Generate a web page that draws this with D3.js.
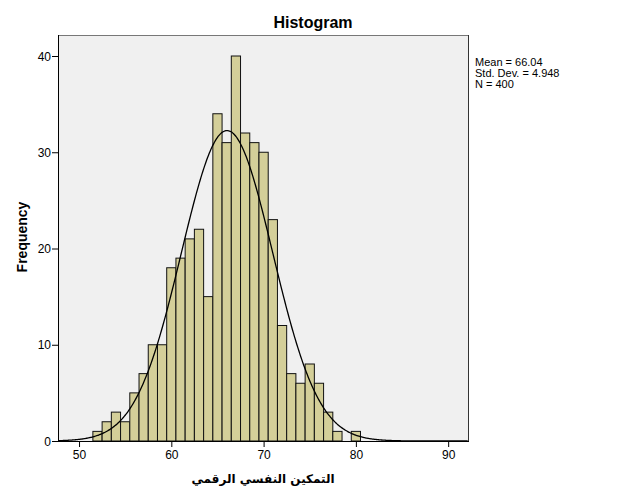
<!DOCTYPE html>
<html>
<head>
<meta charset="utf-8">
<script src="https://cdn.jsdelivr.net/npm/d3@7"></script>
<style>
  body { margin: 0; background: #fff; }
  text { font-family: "Liberation Sans", Arial, sans-serif; }
</style>
</head>
<body>
<svg width="626" height="501"></svg>
<script>
// bin centres (width 1) and their counts
const bins = [52, 53, 54, 55, 56, 57, 58, 59, 60, 61, 62, 63, 64, 65, 66,
              67, 68, 69, 70, 71, 72, 73, 74, 75, 76, 77, 78, 79, 80];
const counts = [1, 2, 3, 2, 5, 7, 10, 10, 18, 19, 21, 22, 15, 34, 31,
                40, 32, 31, 30, 23, 12, 7, 6, 8, 6, 3, 1, 0, 1];
const xTicks = [50, 60, 70, 80, 90];
const yTicks = [0, 10, 20, 30, 40];
const mean = 66.04, sd = 4.948, n = 400;
const statLines = ["Mean = 66.04", "Std. Dev. = 4.948", "N = 400"];

const svg = d3.select('svg');
const pLeft = 58, pRight = 468, pTop = 35, pBottom = 441;

const x = d3.scaleLinear().domain([47.72, 92.15]).range([pLeft, pRight]);
const y = d3.scaleLinear().domain([0, 40]).range([pBottom, 56]);

// plot background
svg.append('rect')
  .attr('x', pLeft).attr('y', pTop)
  .attr('width', pRight - pLeft).attr('height', pBottom - pTop)
  .attr('fill', '#f0f0f0')
  .attr('stroke', 'none');
svg.append('line').attr('x1', pLeft).attr('x2', pRight).attr('y1', pTop + 0.5).attr('y2', pTop + 0.5)
  .attr('stroke', '#777');
svg.append('line').attr('x1', pRight + 0.5).attr('x2', pRight + 0.5).attr('y1', pTop).attr('y2', pBottom)
  .attr('stroke', '#333');

// bars
svg.selectAll('rect.bar').data(bins).enter()
  .append('rect')
  .attr('class', 'bar')
  .attr('x', d => x(d - 0.5))
  .attr('width', d => x(d + 0.5) - x(d - 0.5))
  .attr('y', (d, i) => y(counts[i]))
  .attr('height', (d, i) => y(0) - y(counts[i]))
  .attr('fill', (d, i) => counts[i] > 0 ? '#d4cf99' : 'none')
  .attr('stroke', (d, i) => counts[i] > 0 ? '#111' : 'none')
  .attr('stroke-width', 1);

// normal curve from the mean / sd / N shown in the legend
const curvePts = d3.range(x.domain()[0], x.domain()[1] + 0.001, 0.1).map(v => {
  const z = (v - mean) / sd;
  return [v, n / (sd * Math.sqrt(2 * Math.PI)) * Math.exp(-0.5 * z * z)];
});
svg.append('path')
  .datum(curvePts)
  .attr('fill', 'none')
  .attr('stroke', '#000')
  .attr('stroke-width', 1.3)
  .attr('d', d3.line().x(d => x(d[0])).y(d => y(d[1])).curve(d3.curveBasis));

// axes
const xAxis = svg.append('g')
  .attr('transform', `translate(0,${pBottom})`)
  .call(d3.axisBottom(x).tickValues(xTicks).tickSize(6).tickSizeOuter(0).tickPadding(3));
const yAxis = svg.append('g')
  .attr('transform', `translate(${pLeft},0)`)
  .call(d3.axisLeft(y).tickValues(yTicks).tickSize(6).tickSizeOuter(0).tickPadding(1));
[xAxis, yAxis].forEach(g => {
  g.select('.domain').remove();
  g.selectAll('text').attr('font-size', 12).attr('fill', '#000')
    .style('font-family', '"Liberation Sans", Arial, sans-serif');
  g.selectAll('line').attr('stroke', '#000');
});
yAxis.selectAll('text').attr('dy', '0.35em');
svg.append('line').attr('x1', pLeft).attr('x2', pRight + 1).attr('y1', pBottom + 0.5).attr('y2', pBottom + 0.5)
  .attr('stroke', '#000');
svg.append('line').attr('x1', pLeft + 0.5).attr('x2', pLeft + 0.5).attr('y1', pTop).attr('y2', pBottom)
  .attr('stroke', '#000');

// titles
svg.append('text').attr('x', 313).attr('y', 28)
  .attr('text-anchor', 'middle').attr('font-size', 16).attr('font-weight', 'bold')
  .text('Histogram');
svg.append('text')
  .attr('transform', 'translate(27,237) rotate(-90)')
  .attr('text-anchor', 'middle').attr('font-size', 14).attr('font-weight', 'bold')
  .text('Frequency');
svg.append('text').attr('x', 263).attr('y', 483)
  .attr('text-anchor', 'middle').attr('font-size', 12).attr('font-weight', 'bold')
  .attr('direction', 'rtl')
  .style('font-family', '"DejaVu Sans", "Noto Sans", sans-serif')
  .text('التمكين النفسي الرقمي');

// stats box text
svg.selectAll('text.stat').data(statLines).enter()
  .append('text')
  .attr('class', 'stat')
  .attr('x', 475)
  .attr('y', (d, i) => 66 + i * 11)
  .attr('font-size', 11)
  .text(d => d);
</script>
</body>
</html>
